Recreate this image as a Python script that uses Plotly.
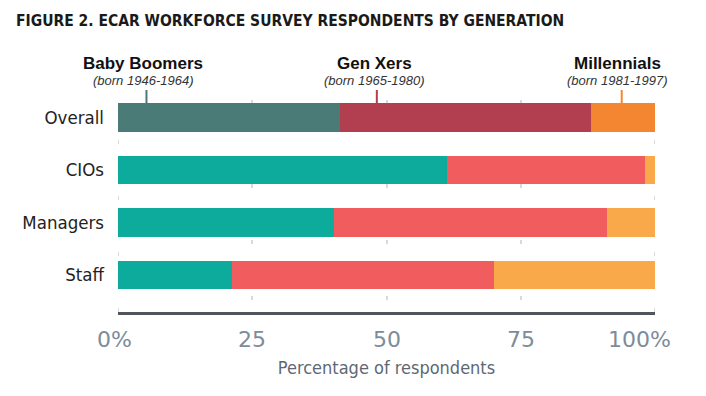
import plotly.graph_objects as go

categories = ["Overall", "CIOs", "Managers", "Staff"]
boomers = [41.3, 61.2, 40.3, 21.3]
genx = [46.8, 37.0, 50.7, 48.8]
millennials = [11.9, 1.8, 9.0, 30.4]

gen_names = ["Baby Boomers", "Gen Xers", "Millennials"]
gen_born = ["(born 1946-1964)", "(born 1965-1980)", "(born 1981-1997)"]
gen_marker_x = [5.3, 48.2, 93.8]
gen_label_x = [4.7, 47.7, 93.0]

tick_vals = [0, 25, 50, 75, 100]
tick_text = ["0%", "25", "50", "75", "100%"]
tick_shift = [-4, 0, 0, 0, -16]

overall_colors = ["#4a7b77", "#b23f50", "#f58631"]
group_colors = ["#0cab9c", "#f15d5f", "#f9a84a"]

# page has an 8px body margin; figure sized to fit the 706x396 window
W, H = 698, 388
ML, MR, MT, MB = 110, 51, 92, 84
plot_h = H - MT - MB

COND = "DejaVu Sans Condensed, DejaVu Sans"

fig = go.Figure()
for i, (name, vals) in enumerate(zip(gen_names, [boomers, genx, millennials])):
    colors = [overall_colors[i] if c == "Overall" else group_colors[i] for c in categories]
    fig.add_trace(go.Bar(
        y=categories, x=vals, orientation="h", name=name,
        marker=dict(color=colors, line=dict(width=0)),
        width=0.55, showlegend=False, hoverinfo="x+y",
    ))

annotations = []
shapes = []
for i in range(3):
    annotations.append(dict(
        x=gen_label_x[i], y=1, xref="x", yref="paper", yshift=37,
        text="<b>%s</b>" % gen_names[i], showarrow=False,
        font=dict(family="Liberation Sans, Arial", size=17, color="#111111"),
        xanchor="center", yanchor="middle"))
    annotations.append(dict(
        x=gen_label_x[i], y=1, xref="x", yref="paper", yshift=20,
        text="<i>%s</i>" % gen_born[i], showarrow=False,
        font=dict(family="Liberation Sans, Arial", size=13, color="#333333"),
        xanchor="center", yanchor="middle"))
    shapes.append(dict(
        type="line", xref="x", yref="paper",
        x0=gen_marker_x[i], x1=gen_marker_x[i],
        y0=1 - 3 / plot_h, y1=1 + 10 / plot_h,
        line=dict(color=overall_colors[i], width=2)))

# dashed gridlines at the range edges (plotly omits them there)
for v in (tick_vals[0], tick_vals[-1]):
    shapes.append(dict(
        type="line", xref="x", yref="paper", x0=v, x1=v, y0=0, y1=1,
        layer="below", line=dict(color="#d9d9d9", width=2, dash="4px,24px")))

for v, t, s in zip(tick_vals, tick_text, tick_shift):
    annotations.append(dict(
        x=v, y=0, xref="x", yref="paper", yshift=-27, xshift=s,
        text=t, showarrow=False,
        font=dict(family="DejaVu Sans", size=22, color="#7d8c9a"),
        xanchor="center", yanchor="middle"))

fig.update_layout(
    width=W, height=H,
    margin=dict(l=ML, r=MR, t=MT, b=MB),
    barmode="stack", bargap=0.45,
    plot_bgcolor="white", paper_bgcolor="white",
    title=dict(
        text="<b>FIGURE 2. ECAR WORKFORCE SURVEY RESPONDENTS BY GENERATION</b>",
        x=8 / W, xanchor="left", xref="container",
        y=1 - 13 / H, yanchor="middle", yref="container",
        font=dict(family=COND, size=15.5, color="#1a1a1a")),
    xaxis=dict(
        range=[0, 100], tickvals=tick_vals, showticklabels=False,
        showgrid=True, gridcolor="#d9d9d9", gridwidth=2, griddash="4px,24px",
        zeroline=False, showline=True, linecolor="#4f555b", linewidth=2.5,
        ticks="",
        title=dict(text="Percentage of respondents", standoff=48,
                   font=dict(family=COND, size=18, color="#5d6874")),
        fixedrange=True,
    ),
    yaxis=dict(
        type="category", categoryorder="array", categoryarray=categories,
        range=[3.705, -0.333], showgrid=False, zeroline=False, showline=False,
        ticks="", ticklabelstandoff=13,
        tickfont=dict(family=COND, size=18.5, color="#222222"),
        fixedrange=True,
    ),
    annotations=annotations, shapes=shapes,
)

fig.write_html("out.html")
